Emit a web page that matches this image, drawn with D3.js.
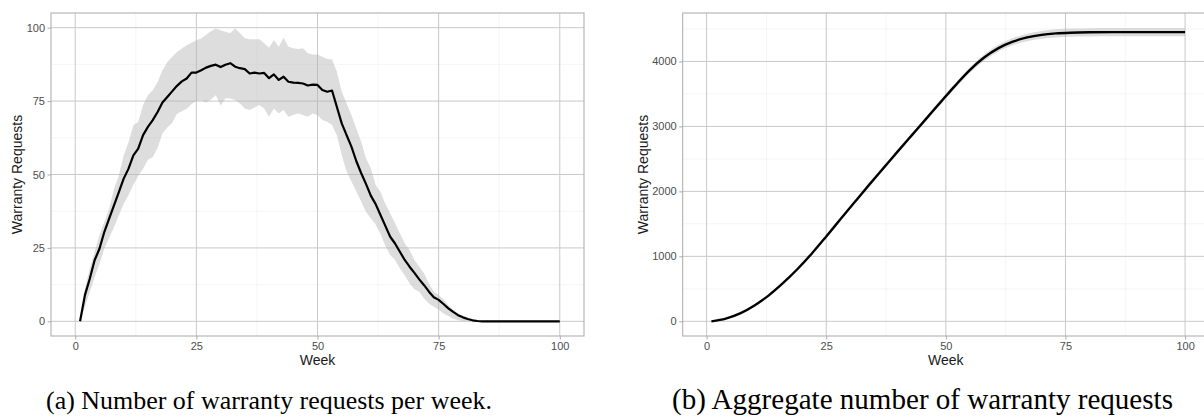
<!DOCTYPE html>
<html><head><meta charset="utf-8">
<script src="https://cdn.jsdelivr.net/npm/d3@7"></script>
<style>body{margin:0;background:#fff}</style></head>
<body>
<svg id="chart" width="1204" height="416"></svg>
<script>
// ---- data ----
const weeks = d3.range(1, 101);
const weeklyMean = [0,8.9,14.5,20.8,24.7,30.4,35,39.5,44,48.6,52,56.5,58.8,63.4,66.2,68.5,71.3,74.5,76.4,78.3,
  80.2,81.7,82.7,84.7,84.7,85.5,86.4,87,87.4,86.6,87.4,87.9,86.7,86.2,85.9,84.4,84.7,84.4,84.6,82.8,
  84.1,82.2,83.3,81.6,81.3,81.2,81.0,80.3,80.6,80.5,78.8,78.2,78.6,73,67.4,63.4,59.5,54.6,50.5,46.8,
  42.8,39.9,36.2,32.5,28.8,26.5,23.7,20.9,18.6,16.5,14.3,12.3,10.1,8.2,7.3,5.9,4.4,3.2,2.1,1.35,
  0.8,0.35,0.1,0,0,0,0,0,0,0,0,0,0,0,0,0,0,0,0,0];
const weeklyUpper = [0,11,18,23.6,29.3,33.8,38.4,45,49.7,56.5,61,66.8,67.9,73.6,77,78.7,81.5,85.5,88.3,90,
  91.7,92.9,94,94.9,95.7,96.3,97.6,98.8,99.7,99.1,98.6,98.1,99.8,98.1,96.4,96.1,96.1,96.1,94.7,93.2,
  95.8,93.5,96.6,93.5,93,92.7,93,91.3,90.9,90.9,90.1,89.3,89.2,85,78.2,74.2,70.3,65.7,61.2,55.5,
  52.1,46.4,44,40,36.8,33.4,30,26.6,24.3,20.9,18.6,16.3,12.9,10.1,9,7.5,5.5,3.9,2.7,1.9,
  1.2,0.7,0.3,0,0,0,0,0,0,0,0,0,0,0,0,0,0,0,0,0];
const weeklyLower = [0,5,10,15,19.5,24.7,28.5,32,36,40,43,46.5,49.5,52,55,56,59,64,66,67.5,
  70.7,71.5,72.4,74,75,75.3,74.5,75.5,77,73.5,76,75.9,75.4,74.2,72.5,72,72.8,73.7,72.5,69.7,
  72.5,70.8,72,69.7,70.3,70.8,70.3,69.7,70.8,70.3,68.6,68,66.9,63.4,56.6,51,47.6,44.2,40.8,37.3,
  35.1,33,29.7,25.7,22.6,20.9,18,15.8,12.9,10.9,10.1,7.8,6.1,5,3.9,2.7,1.8,1,0.4,0.1,
  0,0,0,0,0,0,0,0,0,0,0,0,0,0,0,0,0,0,0,0];

const cumWeeks = [1,4,7,10,13,16,19,22,25,28,31,34,37,40,43,46,49,52,55,58,61,64,67,70,73,76,80,85,90,95,100];
const cumMean  = [0,42,122,245,400,590,805,1045,1306,1574,1840,2104,2362,2620,2874,3128,3382,3632,3868,4060,4205,4305,4370,4410,4432,4443,4449,4451,4451,4451,4451];
const cumLower = [0,40,118,239,392,580,793,1031,1290,1556,1820,2082,2338,2593,2844,3095,3346,3592,3824,4012,4153,4250,4312,4350,4370,4380,4385,4387,4387,4387,4387];
const cumUpper = [0,44,126,251,408,600,817,1059,1322,1592,1860,2126,2386,2647,2904,3161,3418,3672,3912,4108,4257,4360,4428,4470,4494,4506,4513,4515,4515,4515,4515];

const xTicks = [0,25,50,75,100];
const xMinor = [12.5,37.5,62.5,87.5];
const yTicksA = [0,25,50,75,100];
const yMinorA = [12.5,37.5,62.5,87.5];
const yTicksB = [0,1000,2000,3000,4000];
const yMinorB = [500,1500,2500,3500,4500];
const xTitle = "Week";
const yTitle = "Warranty Requests";
const captionA = "(a) Number of warranty requests per week.";
const captionB = "(b) Aggregate number of warranty requests";

// ---- drawing ----
const svg = d3.select("#chart");
svg.append("rect").attr("width",1204).attr("height",416).attr("fill","#fff");

function panel(cfg) {
  const g = svg.append("g");
  const x = d3.scaleLinear().domain([-5,105]).range([cfg.x0, cfg.x1]);
  const y = d3.scaleLinear().domain(cfg.yDomain).range([cfg.y1, cfg.y0]);
  // minor grid
  g.selectAll(".vminor").data(xMinor).join("line")
    .attr("x1", d=>x(d)).attr("x2", d=>x(d)).attr("y1", cfg.y0).attr("y2", cfg.y1)
    .attr("stroke","#f1f1f1").attr("stroke-width",0.7);
  g.selectAll(".hminor").data(cfg.yMinor).join("line")
    .attr("x1", cfg.x0).attr("x2", cfg.x1).attr("y1", d=>y(d)).attr("y2", d=>y(d))
    .attr("stroke","#f1f1f1").attr("stroke-width",0.7);
  // major grid
  g.selectAll(".vmajor").data(xTicks).join("line")
    .attr("x1", d=>x(d)).attr("x2", d=>x(d)).attr("y1", cfg.y0).attr("y2", cfg.y1)
    .attr("stroke","#c9c9c9").attr("stroke-width",1);
  g.selectAll(".hmajor").data(cfg.yTicks).join("line")
    .attr("x1", cfg.x0).attr("x2", cfg.x1).attr("y1", d=>y(d)).attr("y2", d=>y(d))
    .attr("stroke","#c9c9c9").attr("stroke-width",1);
  // ribbon
  const area = d3.area().x(d=>x(d.w)).y0(d=>y(d.lo)).y1(d=>y(d.hi)).curve(cfg.curve);
  g.append("path").datum(cfg.data).attr("d", area)
    .attr("fill","#b3b3b3").attr("fill-opacity",0.45);
  const line = d3.line().x(d=>x(d.w)).y(d=>y(d.m)).curve(cfg.curve);
  g.append("path").datum(cfg.data).attr("d", line)
    .attr("fill","none").attr("stroke","#000").attr("stroke-width",cfg.lw)
    .attr("stroke-linejoin","round");
  // border
  g.append("rect").attr("x",cfg.x0).attr("y",cfg.y0)
    .attr("width",cfg.x1-cfg.x0).attr("height",cfg.y1-cfg.y0)
    .attr("fill","none").attr("stroke","#a9a9a9").attr("stroke-width",1);
  // axes
  const ax = g.append("g").attr("transform",`translate(0,${cfg.y1})`)
    .call(d3.axisBottom(x).tickValues(xTicks).tickSize(3.5).tickPadding(2.2));
  const ay = g.append("g").attr("transform",`translate(${cfg.x0},0)`)
    .call(d3.axisLeft(y).tickValues(cfg.yTicks).tickSize(3.5).tickPadding(2.5).tickFormat(d3.format("d")));
  [ax, ay].forEach(a => {
    a.select(".domain").remove();
    a.selectAll(".tick line").attr("stroke","#a9a9a9");
    a.selectAll(".tick text").attr("fill","#4d4d4d")
      .style("font-family","'Liberation Sans', Arial, sans-serif").style("font-size","11px");
  });
  // titles
  g.append("text").attr("x",(cfg.x0+cfg.x1)/2).attr("y",365)
    .attr("text-anchor","middle").attr("fill","#1a1a1a")
    .style("font-family","'Liberation Sans', Arial, sans-serif").style("font-size","14px")
    .text(xTitle);
  g.append("text").attr("transform",`translate(${cfg.ytx},${(cfg.y0+cfg.y1)/2}) rotate(-90)`)
    .attr("text-anchor","middle").attr("fill","#1a1a1a")
    .style("font-family","'Liberation Sans', Arial, sans-serif").style("font-size","14px")
    .text(yTitle);
  // caption
  const cap = svg.append("text").attr("x",cfg.capX).attr("y",409)
    .attr("text-anchor","middle").attr("fill","#000")
    .style("font-family","'Liberation Serif','Times New Roman',serif").style("font-size","24px")
    .text(cfg.caption);
  const w = cap.node().getComputedTextLength();
  cap.style("font-size", (24*cfg.capW/w).toFixed(2)+"px");
}

panel({
  x0:51, x1:584, y0:13, y1:336, yDomain:[-5,105],
  yTicks:yTicksA, yMinor:yMinorA, ytx:22, lw:2.2,
  curve:d3.curveLinear,
  data: weeks.map((w,i)=>({w, m:weeklyMean[i], lo:weeklyLower[i], hi:weeklyUpper[i]})),
  caption:captionA, capX:269, capW:446
});
panel({
  x0:682.7, x1:1209, y0:13, y1:336, yDomain:[-226,4746],
  yTicks:yTicksB, yMinor:yMinorB, ytx:647.5, lw:2.4,
  curve:d3.curveMonotoneX,
  data: cumWeeks.map((w,i)=>({w, m:cumMean[i], lo:cumLower[i], hi:cumUpper[i]})),
  caption:captionB, capX:922.5, capW:501
});
</script>
</body></html>
